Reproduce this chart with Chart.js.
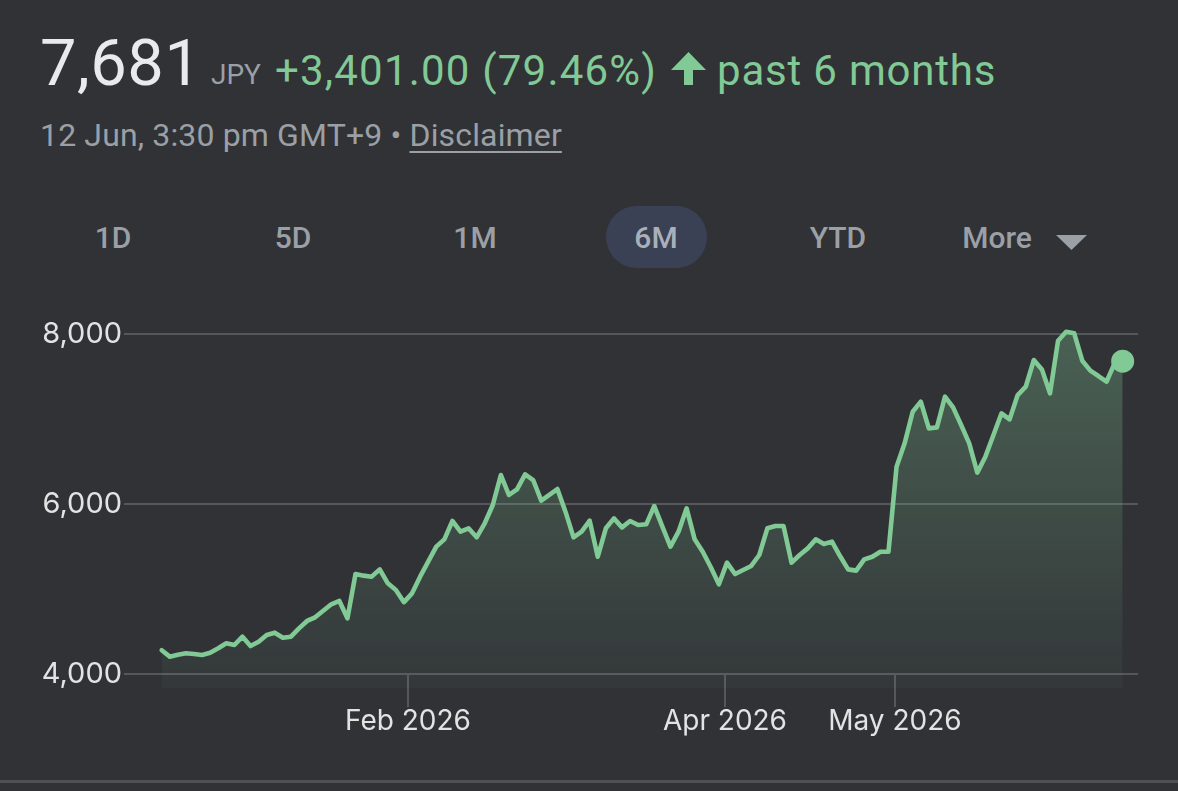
<!DOCTYPE html>
<html>
<head>
<meta charset="utf-8">
<script src="https://cdn.jsdelivr.net/npm/chart.js@4.4.1/dist/chart.umd.min.js"></script>
<style>
  html, body { margin: 0; padding: 0; background: #313236; width: 1178px; height: 791px; overflow: hidden; font-family: Roboto, sans-serif; }
  .abs { position: absolute; white-space: nowrap; }
  #price { left: 40px; top: 31px; font-size: 65px; line-height: 65px; color: #e8eaed; letter-spacing: 0.5px; }
  #cur { left: 211px; top: 61px; font-size: 28px; line-height: 28px; color: #9aa0a6; }
  #chg { left: 275px; top: 50px; font-size: 42px; line-height: 42px; color: #81c995; letter-spacing: 1.2px; }
  #arrow { left: 671px; top: 52px; }
  #period { left: 717px; top: 50px; font-size: 42px; line-height: 42px; color: #81c995; letter-spacing: 0.8px; }
  #stamp { left: 40px; top: 119px; font-size: 32px; line-height: 32px; color: #9aa0a6; letter-spacing: 0.15px; }
  #stamp u { text-decoration-thickness: 2px; text-underline-offset: 5px; }
  .btn { top: 223px; width: 110px; text-align: center; font-size: 30px; line-height: 30px; font-weight: 500; color: #9aa0a6; }
  #pill { left: 606px; top: 206px; width: 101px; height: 62px; border-radius: 31px; background: #3a4154; }
  #caret { left: 1056px; top: 235px; }
  #rule { left: 0; top: 780px; width: 1178px; height: 3px; background: #505155; }
  #chart { position: absolute; left: 0; top: 300px; }
</style>
</head>
<body>
<div class="abs" id="price">7,681</div>
<div class="abs" id="cur">JPY</div>
<div class="abs" id="chg">+3,401.00 (79.46%)</div>
<svg class="abs" id="arrow" width="35" height="33" viewBox="0 0 35 33"><path d="M17.5 0 L35 18 L22 18 L22 33 L13 33 L13 18 L0 18 Z" fill="#81c995"/></svg>
<div class="abs" id="period">past 6 months</div>
<div class="abs" id="stamp">12 Jun, 3:30 pm GMT+9 • <u>Disclaimer</u></div>

<div class="abs" id="pill"></div>
<div class="abs btn" style="left:58px">1D</div>
<div class="abs btn" style="left:238px">5D</div>
<div class="abs btn" style="left:420px">1M</div>
<div class="abs btn" style="left:601px;color:#aab0b8">6M</div>
<div class="abs btn" style="left:783px">YTD</div>
<div class="abs btn" style="left:942px">More</div>
<svg class="abs" id="caret" width="31" height="15" viewBox="0 0 31 15"><path d="M0 0 L31 0 L15.5 15 Z" fill="#9aa0a6"/></svg>

<canvas id="chart" width="1178" height="480"></canvas>
<div class="abs" id="rule"></div>

<script>
// daily closes, 12 Dec -> 12 Jun
const closes = [
  4280, 4204, 4225, 4243, 4235, 4224, 4250, 4302, 4361, 4341,
  4439, 4329, 4380, 4459, 4486, 4427, 4439, 4537, 4624, 4667,
  4745, 4820, 4859, 4655, 5176, 5157, 5145, 5231, 5067, 4988,
  4845, 4949, 5145, 5321, 5498, 5584, 5800, 5674, 5714, 5608,
  5773, 5988, 6341, 6106, 6173, 6349, 6282, 6039, 6106, 6176,
  5910, 5608, 5674, 5804, 5380, 5714, 5831, 5725, 5800, 5753,
  5761, 5976, 5733, 5498, 5674, 5949, 5584, 5439, 5255, 5055,
  5310, 5176, 5224, 5271, 5400, 5714, 5741, 5741, 5310, 5400,
  5478, 5584, 5529, 5557, 5388, 5231, 5216, 5349, 5380, 5439,
  5439, 6439, 6714, 7086, 7204, 6890, 6902, 7263, 7137, 6929,
  6714, 6369, 6557, 6812, 7067, 6996, 7282, 7380, 7694, 7584,
  7302, 7921, 8027, 8008, 7686, 7569, 7506, 7439, 7655, 7681
];
const yTicks = [4000, 6000, 8000];
// month boundaries, in trading-day index units
const xTickPos = [30.5, 69.75, 90.8];
const xTickLabels = ['Feb 2026', 'Apr 2026', 'May 2026'];

const GREEN = '#81c995';
const GRID = '#55575b';
const lastIdx = closes.length - 1;

// short month ticks hanging below the 4,000 line
const monthMarks = {
  id: 'monthMarks',
  beforeDatasetsDraw(chart) {
    const { ctx, scales: { x, y } } = chart;
    const y0 = y.getPixelForValue(yTicks[0]);
    ctx.save();
    ctx.strokeStyle = GRID;
    ctx.lineWidth = 2;
    xTickPos.forEach(p => {
      const px = Math.round(x.getPixelForValue(p));
      ctx.beginPath();
      ctx.moveTo(px, y0);
      ctx.lineTo(px, y0 + 33);
      ctx.stroke();
    });
    ctx.restore();
  }
};

new Chart(document.getElementById('chart'), {
  type: 'line',
  data: {
    datasets: [{
      data: closes.map((v, i) => ({ x: i, y: v })),
      borderColor: GREEN,
      borderWidth: 4.6,
      borderJoinStyle: 'round',
      borderCapStyle: 'round',
      tension: 0,
      fill: 'start',
      backgroundColor: (c) => {
        const area = c.chart.chartArea;
        if (!area) return 'rgba(129,201,149,0.15)';
        const g = c.chart.ctx.createLinearGradient(0, area.top, 0, area.bottom);
        g.addColorStop(0, 'rgba(129,201,149,0.32)');
        g.addColorStop(1, 'rgba(129,201,149,0.04)');
        return g;
      },
      pointRadius: closes.map((_, i) => i === lastIdx ? 11.5 : 0),
      pointBackgroundColor: GREEN,
      pointBorderWidth: 0,
      clip: false,
    }]
  },
  options: {
    responsive: false,
    animation: false,
    events: [],
    layout: { padding: { left: 0, right: 40, top: 24, bottom: 0 } },
    plugins: { legend: { display: false }, tooltip: { enabled: false } },
    scales: {
      x: {
        type: 'linear',
        min: -4.67,
        max: 120.9,
        grid: { display: false, drawTicks: false },
        border: { display: false },
        afterBuildTicks: s => { s.ticks = xTickPos.map(v => ({ value: v })); },
        afterFit: s => { s.height = 92; },
        ticks: {
          autoSkip: false,
          maxRotation: 0,
          padding: 17,
          color: '#e3e3e3',
          font: { family: 'Inter', size: 28 },
          callback: (v, i) => xTickLabels[i],
        },
      },
      y: {
        min: 3835,
        max: 8118,
        grid: { color: GRID, lineWidth: 2, drawTicks: false },
        border: { display: false },
        afterBuildTicks: s => { s.ticks = yTicks.map(v => ({ value: v })); },
        afterFit: s => { s.width = 124; },
        ticks: {
          padding: 2,
          color: '#e3e3e3',
          font: { family: 'Inter', size: 29 },
          callback: v => v.toLocaleString('en-US'),
        },
      },
    },
  },
  plugins: [monthMarks],
});
</script>
</body>
</html>
